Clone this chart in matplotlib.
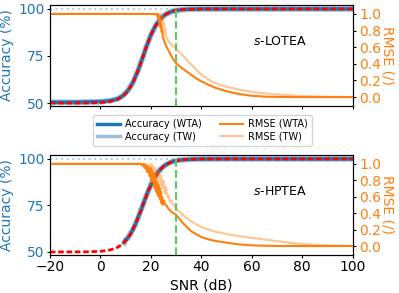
import matplotlib
matplotlib.use("Agg")
import matplotlib.pyplot as plt
from matplotlib.lines import Line2D

# --- accuracy: fitted sigmoid (red dashed) and measured curves ---
snr_fit = [-20, -15, -10, -5, 0, 2, 4, 6, 7, 8, 9, 10, 11, 12, 13, 14, 15, 16, 17, 18, 19, 20,
           21, 22, 23, 24, 25, 26, 27, 28, 29, 30, 31, 32, 34, 36, 40, 50, 60, 70, 80, 90, 100]
fit_top = [50.0, 50.0, 50.01, 50.05, 50.25, 50.45, 50.85, 51.56, 52.10, 52.83, 53.79, 55.05, 56.65,
           58.67, 61.14, 64.07, 67.43, 71.12, 75.0, 78.88, 82.57, 85.93, 88.86, 91.33, 93.35, 94.95,
           96.21, 97.17, 97.90, 98.44, 98.85, 99.15, 99.38, 99.54, 99.75, 99.87, 99.96,
           100, 100, 100, 100, 100, 100]
acc_wta_top = [50.5, 50.4, 50.5, 50.6, 50.8, 51.0, 51.3, 51.9, 52.4, 53.1, 54.0, 55.3, 56.9, 58.8,
               61.3, 64.2, 67.7, 71.3, 75.1, 79.0, 82.7, 86.0, 88.9, 91.3, 93.4, 95.0, 96.3, 97.2,
               97.9, 98.5, 98.9, 99.2, 99.4, 99.6, 99.8, 99.9, 100, 100, 100, 100, 100, 100, 100]
acc_tw_top = [50.3, 50.5, 50.3, 50.6, 50.6, 51.1, 51.2, 52.0, 52.2, 53.3, 53.8, 55.6, 56.6, 59.2,
              61.0, 64.6, 67.3, 71.6, 74.8, 79.3, 82.4, 86.2, 88.6, 91.5, 93.1, 95.1, 96.0, 97.3,
              97.7, 98.5, 98.7, 99.2, 99.3, 99.6, 99.7, 99.9, 99.9, 100, 100, 100, 100, 100, 100]

fit_bot = [50.0, 50.0, 50.02, 50.08, 50.35, 50.64, 51.13, 52.00, 52.65, 53.50, 54.58, 55.96, 57.68,
           59.80, 62.32, 65.25, 68.53, 72.07, 75.73, 79.37, 82.82, 85.97, 88.74, 91.10, 93.05, 94.63,
           95.89, 96.87, 97.63, 98.21, 98.65, 98.99, 99.24, 99.43, 99.68, 99.82, 99.95,
           100, 100, 100, 100, 100, 100]
snr_acc_bot = [9.5, 10, 11, 12, 13, 14, 15, 16, 17, 18, 19, 20, 21, 22, 23, 24, 25, 26, 27, 28,
               29, 30, 31, 32, 34, 36, 40, 50, 60, 70, 80, 90, 100]
acc_wta_bot = [55.4, 56.2, 57.9, 59.6, 62.6, 65.0, 68.9, 71.8, 76.0, 79.2, 83.0, 85.8, 88.9, 91.0,
               93.2, 94.5, 96.0, 96.8, 97.7, 98.2, 98.7, 99.0, 99.3, 99.4, 99.7, 99.8, 99.95,
               100, 100, 100, 100, 100, 100]
acc_tw_bot = [54.9, 56.6, 57.5, 60.2, 62.1, 65.6, 68.3, 72.4, 75.5, 79.8, 82.6, 86.3, 88.5, 91.3,
              92.9, 94.8, 95.8, 97.0, 97.5, 98.3, 98.6, 99.1, 99.2, 99.5, 99.6, 99.8, 99.9,
              100, 100, 100, 100, 100, 100]

# --- RMSE curves ---
snr_rmse_wta_top = [-20, -10, 0, 10, 20, 22, 22.5, 22.75, 23, 23.25, 23.5, 23.75, 24, 24.25, 24.5,
                    24.75, 25, 25.5, 26, 26.5, 27, 28, 29, 30, 32, 35, 38, 40, 43, 46, 50, 55, 60,
                    65, 70, 80, 100]
rmse_wta_top = [1.0, 1.0, 1.0, 1.0, 1.0, 0.995, 1.0, 0.96, 0.99, 0.9, 0.95, 0.84, 0.88, 0.79, 0.8,
                0.72, 0.7, 0.66, 0.62, 0.59, 0.56, 0.5, 0.45, 0.41, 0.355, 0.29, 0.225, 0.19,
                0.145, 0.108, 0.07, 0.036, 0.016, 0.006, 0.002, 0.0, 0.0]
snr_rmse_tw_top = [-20, -10, 0, 10, 20, 23.5, 24, 24.25, 24.5, 24.75, 25, 25.25, 25.5, 25.75, 26,
                   26.5, 27, 28, 29, 30, 33, 36, 40, 44, 48, 52, 56, 60, 65, 72, 80, 90, 100]
rmse_tw_top = [1.0, 1.0, 1.0, 1.0, 1.0, 1.0, 0.97, 1.0, 0.88, 0.95, 0.8, 0.9, 0.76, 0.82, 0.72,
               0.7, 0.67, 0.64, 0.61, 0.58, 0.49, 0.39, 0.27, 0.19, 0.14, 0.11, 0.085, 0.063, 0.045,
               0.028, 0.013, 0.004, 0.0]

snr_rmse_wta_bot = [-20, -10, 0, 10, 16, 16.5, 17, 17.5, 18, 18.5, 19, 19.5, 20, 20.25, 20.5, 20.75,
                    21, 21.25, 21.5, 21.75, 22, 22.25, 22.5, 22.75, 23, 23.25, 23.5, 23.75, 24,
                    24.25, 24.5, 24.75, 25, 25.5, 26, 26.5, 27, 27.5, 28, 29, 30, 33, 36, 40, 43,
                    46, 50, 55, 60, 70, 100]
rmse_wta_bot = [1.0, 1.0, 1.0, 1.0, 1.0, 0.98, 1.0, 0.95, 0.99, 0.9, 0.97, 0.85, 0.95, 0.78, 0.92,
                0.8, 0.88, 0.72, 0.86, 0.7, 0.8, 0.66, 0.78, 0.62, 0.74, 0.6, 0.7, 0.56, 0.66, 0.52,
                0.6, 0.5, 0.56, 0.52, 0.5, 0.48, 0.45, 0.44, 0.42, 0.4, 0.38, 0.27, 0.18, 0.11,
                0.08, 0.06, 0.04, 0.02, 0.008, 0.0, 0.0]
snr_rmse_tw_bot = [-20, -10, 0, 10, 18, 19, 20, 20.5, 21, 21.5, 22, 22.5, 23, 23.5, 24, 24.5, 25,
                   25.5, 26, 26.5, 27, 27.5, 28, 29, 30, 33, 36, 40, 45, 50, 55, 60, 65, 70, 75, 80,
                   90, 100]
rmse_tw_bot = [1.0, 1.0, 1.0, 1.0, 1.0, 0.97, 1.0, 0.9, 0.98, 0.86, 0.95, 0.82, 0.9, 0.74, 0.86,
               0.7, 0.8, 0.64, 0.72, 0.6, 0.62, 0.54, 0.55, 0.5, 0.46, 0.37, 0.3, 0.23, 0.18, 0.145,
               0.12, 0.1, 0.08, 0.06, 0.04, 0.025, 0.008, 0.0]

snr_threshold = 30
labels = ["$s$-LOTEA", "$s$-HPTEA"]

BLUE, ORANGE = "tab:blue", "tab:orange"

fig = plt.figure(figsize=(3.99, 2.93), dpi=100)
ax_top = fig.add_axes([0.125, 0.638, 0.759, 0.345])
ax_bot = fig.add_axes([0.125, 0.130, 0.759, 0.341])

panels = [
    (ax_top, snr_fit, acc_wta_top, acc_tw_top, fit_top,
     snr_rmse_wta_top, rmse_wta_top, snr_rmse_tw_top, rmse_tw_top, labels[0]),
    (ax_bot, snr_acc_bot, acc_wta_bot, acc_tw_bot, fit_bot,
     snr_rmse_wta_bot, rmse_wta_bot, snr_rmse_tw_bot, rmse_tw_bot, labels[1]),
]

for ax, s_acc, a_wta, a_tw, a_fit, s_rw, r_w, s_rt, r_t, name in panels:
    ax.axhline(100, color=BLUE, alpha=0.35, ls=":", lw=1.5, zorder=1)
    ax.plot(s_acc, a_tw, color=BLUE, alpha=0.45, lw=4, zorder=2)
    ax.plot(s_acc, a_wta, color=BLUE, lw=2.5, zorder=3)
    ax.plot(snr_fit, a_fit, color="red", lw=2, dashes=(2, 1), zorder=4)
    ax.set_xlim(-20, 100)
    ax.set_ylim(48.4, 102.1)
    ax.set_yticks([50, 75, 100])
    ax.tick_params(axis="y", labelcolor=BLUE, labelsize=10, length=2.5, pad=1.5)
    ax.tick_params(axis="x", labelsize=10, length=2.5, pad=1.5)
    ax.set_ylabel("Accuracy (%)", color=BLUE, fontsize=10, labelpad=3)

    tw = ax.twinx()
    tw.plot(s_rt, r_t, color=ORANGE, alpha=0.45, lw=1.5)
    tw.plot(s_rw, r_w, color=ORANGE, lw=1.5)
    tw.axvline(snr_threshold, color="#5ec95e", ls="--", lw=1.5)
    tw.set_ylim(-0.108, 1.108)
    tw.set_yticks([0, 0.2, 0.4, 0.6, 0.8, 1.0])
    tw.tick_params(axis="y", labelcolor=ORANGE, labelsize=10, length=2.5, pad=2)
    tw.set_ylabel("RMSE (/)", color=ORANGE, fontsize=10, rotation=270, labelpad=10)
    tw.text(0.76, 0.634, name, transform=ax.transAxes, ha="center", va="center", fontsize=9)

ax_top.tick_params(axis="x", labelbottom=False)
ax_bot.set_xlabel("SNR (dB)", fontsize=10, labelpad=3)

handles = [
    Line2D([], [], color=BLUE, lw=2.5),
    Line2D([], [], color=BLUE, alpha=0.45, lw=2.5),
    Line2D([], [], color=ORANGE, lw=1.5),
    Line2D([], [], color=ORANGE, alpha=0.45, lw=1.5),
]
fig.legend(handles, ["Accuracy (WTA)", "Accuracy (TW)", "RMSE (WTA)", "RMSE (TW)"],
           loc="center", bbox_to_anchor=(0.508, 0.555), ncol=2, fontsize=7,
           columnspacing=1.85, handlelength=2.3, handletextpad=0.6, labelspacing=0.3)

fig.savefig("out.png", dpi=100, facecolor="white")
